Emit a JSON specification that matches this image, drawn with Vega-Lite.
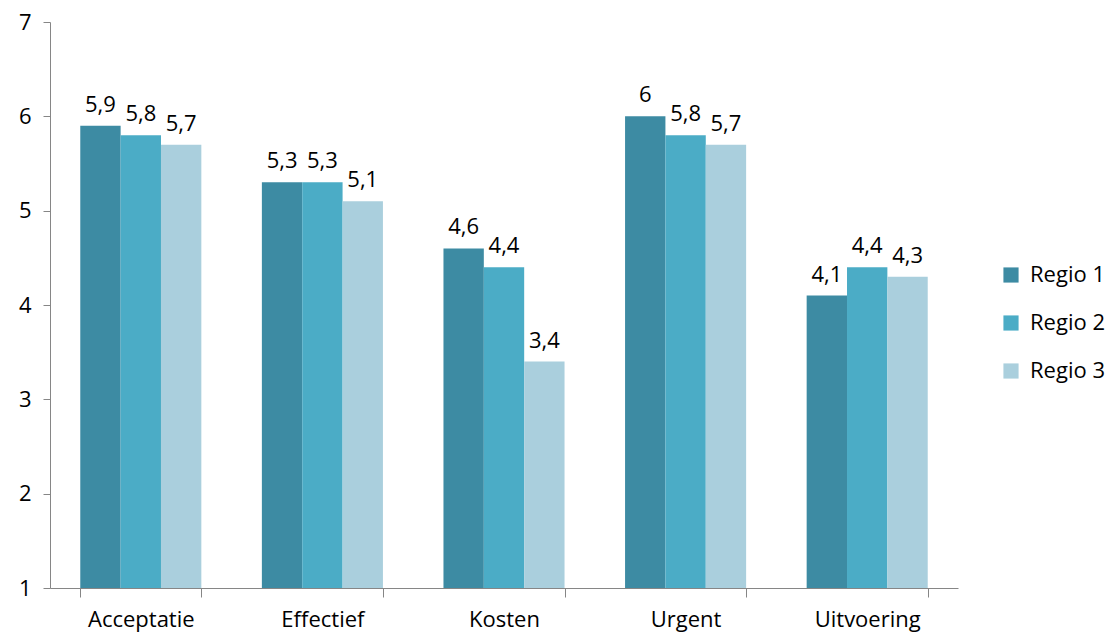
{
  "$schema": "https://vega.github.io/schema/vega-lite/v6.json",
  "autosize": {"type": "none"},
  "padding": {"left": 50, "top": 22, "right": 153, "bottom": 46},
  "width": 908,
  "height": 566,
  "config": {
    "locale": {"number": {"decimal": ",", "thousands": ".", "grouping": [3], "currency": ["€", ""]}},
    "font": "Open Sans",
    "view": {"stroke": null},
    "axis": {"domainColor": "#868686", "tickColor": "#868686", "labelColor": "#000000", "labelFontSize": 22, "labelFont": "Open Sans", "grid": false}
  },
  "data": {
    "values": [
      {"cat": "Acceptatie", "regio": "Regio 1", "v": 5.9},
      {"cat": "Acceptatie", "regio": "Regio 2", "v": 5.8},
      {"cat": "Acceptatie", "regio": "Regio 3", "v": 5.7},
      {"cat": "Effectief", "regio": "Regio 1", "v": 5.3},
      {"cat": "Effectief", "regio": "Regio 2", "v": 5.3},
      {"cat": "Effectief", "regio": "Regio 3", "v": 5.1},
      {"cat": "Kosten", "regio": "Regio 1", "v": 4.6},
      {"cat": "Kosten", "regio": "Regio 2", "v": 4.4},
      {"cat": "Kosten", "regio": "Regio 3", "v": 3.4},
      {"cat": "Urgent", "regio": "Regio 1", "v": 6},
      {"cat": "Urgent", "regio": "Regio 2", "v": 5.8},
      {"cat": "Urgent", "regio": "Regio 3", "v": 5.7},
      {"cat": "Uitvoering", "regio": "Regio 1", "v": 4.1},
      {"cat": "Uitvoering", "regio": "Regio 2", "v": 4.4},
      {"cat": "Uitvoering", "regio": "Regio 3", "v": 4.3}
    ]
  },
  "encoding": {
    "x": {
      "field": "cat", "type": "nominal", "sort": null,
      "scale": {"paddingInner": 0.3333, "paddingOuter": 0.1667},
      "axis": {"title": null, "labelAngle": 0, "tickBand": "extent", "tickSize": 9, "labelPadding": 12, "domainWidth": 1}
    },
    "xOffset": {"field": "regio", "type": "nominal", "scale": {"paddingInner": 0, "paddingOuter": 0}},
    "y": {
      "field": "v", "type": "quantitative",
      "scale": {"domain": [1, 7], "zero": false, "nice": false},
      "axis": {"title": null, "values": [1, 2, 3, 4, 5, 6, 7], "tickSize": 7, "labelPadding": 12, "format": "d"}
    }
  },
  "layer": [
    {
      "mark": {"type": "bar"},
      "encoding": {
        "y2": {"datum": 1},
        "color": {
          "field": "regio", "type": "nominal",
          "scale": {"domain": ["Regio 1", "Regio 2", "Regio 3"], "range": ["#3D8BA3", "#4BACC6", "#AACFDD"]},
          "legend": {"title": null, "orient": "none", "legendX": 950, "legendY": 242, "symbolType": "square", "symbolSize": 230, "symbolStrokeWidth": 0, "labelFontSize": 22, "labelFont": "Open Sans", "labelColor": "#000000", "rowPadding": 26, "labelOffset": 8, "padding": 0}
        }
      }
    },
    {
      "mark": {"type": "text", "baseline": "bottom", "dy": -9, "fontSize": 22, "color": "#000000"},
      "encoding": {
        "text": {"field": "v", "type": "quantitative", "format": "~g"}
      }
    }
  ]
}
